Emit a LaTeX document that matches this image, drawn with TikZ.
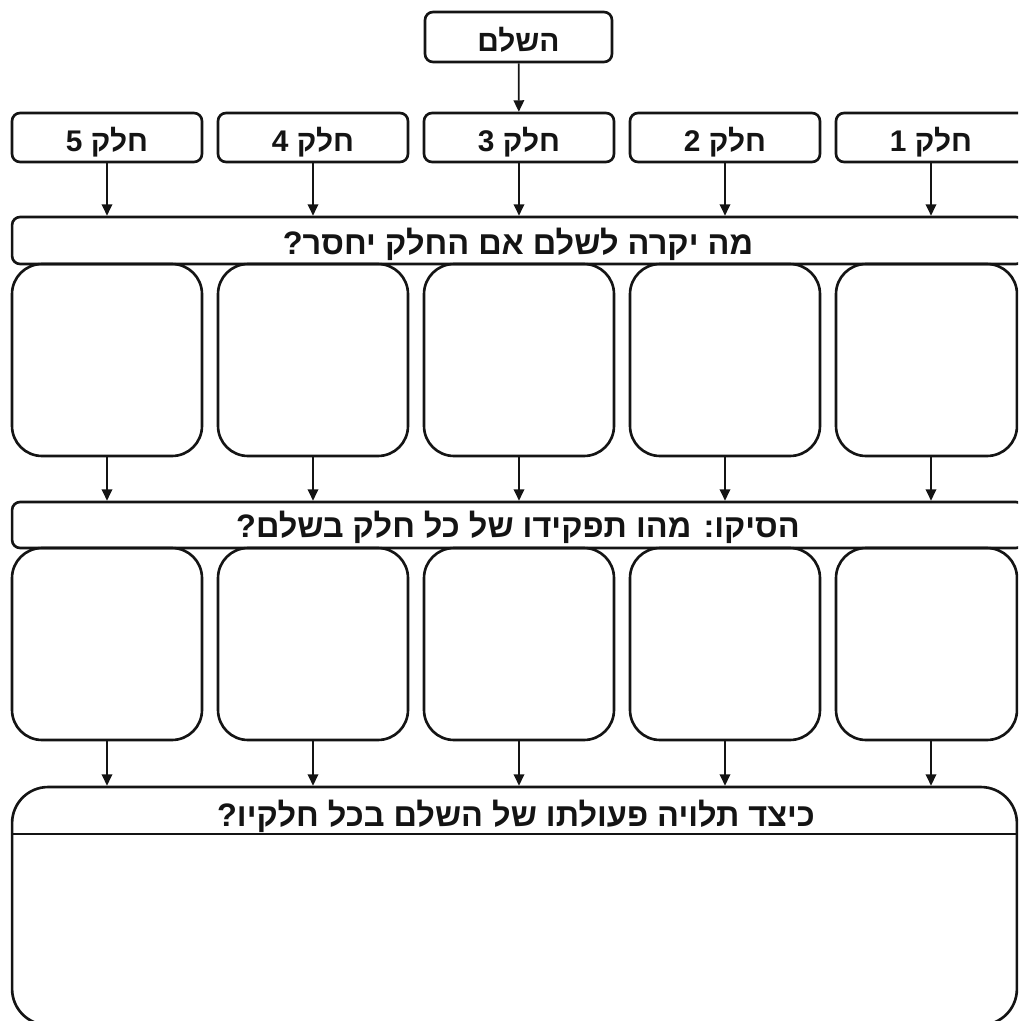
\documentclass[tikz,border=0pt]{standalone}
\usepackage{fontspec}
\newfontfamily\hebfont[Script=Hebrew]{Liberation Sans}
\TeXXeTstate=1
\usetikzlibrary{positioning,arrows.meta}
\definecolor{inkblack}{RGB}{20,20,20}

\tikzset{
  hebtext/.style={font=\hebfont\bfseries\fontsize{17}{20}\selectfont,text=inkblack},
  bigtext/.style={font=\hebfont\bfseries\fontsize{18.5}{22}\selectfont,text=inkblack},
  wholebox/.style={draw=inkblack,line width=1.5pt,rounded corners=0.16cm,
    minimum width=3.74cm,minimum height=1.0cm,inner sep=0pt,
    text height=0.58cm,text depth=0pt,hebtext},
  partbox/.style={draw=inkblack,line width=1.5pt,rounded corners=0.16cm,
    minimum width=3.8cm,minimum height=0.98cm,inner sep=0pt,
    text height=0.58cm,text depth=0pt,hebtext},
  bar/.style={draw=inkblack,line width=1.5pt,rounded corners=0.16cm,
    minimum width=20.24cm,minimum height=0.94cm,inner sep=0pt,
    text height=0.54cm,text depth=0pt,bigtext},
  tallbox/.style={draw=inkblack,line width=1.5pt,rounded corners=0.6cm,
    minimum width=3.8cm,minimum height=3.84cm,inner sep=0pt},
  bigbox/.style={draw=inkblack,line width=1.5pt,rounded corners=0.72cm,
    minimum width=20.1cm,minimum height=4.76cm,inner sep=0pt},
  flow/.style={draw=inkblack,line width=1pt,-{Triangle[width=6pt,length=6.5pt]}}
}

\begin{document}
\begin{tikzpicture}[x=0.02cm,y=-0.02cm]
  \useasboundingbox (0,0) rectangle (1018,1021);
  \clip (0,0) rectangle (1018,1021);
  % the whole and its parts (numbered right to left)
  \node[wholebox] (whole) at (518.5,37) {\beginR השלם\endR};
  \foreach \i/\cx in {1/931,2/725,3/519,4/313,5/107}{
    \node[partbox] (p\i) at (\cx,137.5) {\beginR חלק \i\endR};
  }
  % first question
  \node[bar] (bar1) at (518,240.5) {\beginR מה יקרה לשלם אם החלק יחסר?\endR};
  \node[tallbox,minimum width=3.62cm] (t1) at (926.5,360) {};
  \foreach \i/\cx in {2/725,3/519,4/313,5/107}{
    \node[tallbox] (t\i) at (\cx,360) {};
  }
  % conclusion
  \node[bar,minimum height=0.92cm,text height=0.48cm] (bar2) at (518,525) {\beginR הסיקו: מהו תפקידו של כל חלק בשלם?\endR};
  \node[tallbox,minimum width=3.62cm] (s1) at (926.5,644) {};
  \foreach \i/\cx in {2/725,3/519,4/313,5/107}{
    \node[tallbox] (s\i) at (\cx,644) {};
  }
  % final box
  \node[bigbox] (big) at (514.5,906) {};
  \coordinate (hdr) at (0,834);
  \draw[inkblack,line width=1.5pt] (big.west |- hdr) -- (big.east |- hdr);
  \node[bigtext,anchor=base] (q3) at (516,826) {\beginR כיצד תלויה פעולתו של השלם בכל חלקיו?\endR};
  % arrows
  \draw[flow] (whole) -- (p3);
  \foreach \i in {1,...,5}{
    \draw[flow] (p\i.south) -- (p\i.south |- bar1.north);
    \draw[flow] (p\i.south |- t\i.south) -- (p\i.south |- bar2.north);
    \draw[flow] (p\i.south |- s\i.south) -- (p\i.south |- big.north);
  }
\end{tikzpicture}
\end{document}
